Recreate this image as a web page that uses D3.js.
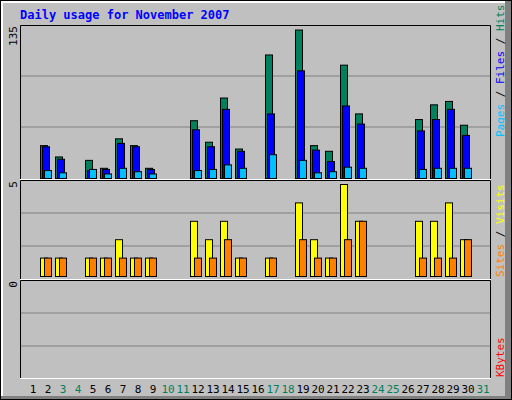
<!DOCTYPE html>
<html>
<head>
<meta charset="utf-8">
<script src="https://cdn.jsdelivr.net/npm/d3@7"></script>
<style>
  body { margin: 0; background: #fff; }
  text { font-family: "DejaVu Sans Mono", monospace; }
</style>
</head>
<body>
<svg id="chart" width="512" height="400"></svg>
<script>
// Daily data for November 2007
const days = d3.range(1, 32);
const weekendDays = [3, 4, 10, 11, 17, 18, 24, 25, 31];
const hits   = [0,29,19,0,16,9,35,29,9,0,0,51,32,71,26,0,109,0,131,29,24,100,57,0,0,0,52,65,68,47,0];
const files  = [0,28,17,0,7,8,31,28,8,0,0,43,28,61,24,0,57,0,95,25,15,64,48,0,0,0,42,52,61,38,0];
const pages  = [0,7,5,0,8,4,9,6,4,0,0,7,8,12,9,0,21,0,16,5,6,10,9,0,0,0,8,9,9,9,0];
const visits = [0,1,1,0,1,1,2,1,1,0,0,3,2,3,1,0,1,0,4,2,1,5,3,0,0,0,3,3,4,2,0];
const sites  = [0,1,1,0,1,1,1,1,1,0,0,1,1,2,1,0,1,0,2,1,1,2,3,0,0,0,1,1,1,2,0];
const kbytes = days.map(() => 0);

const svg = d3.select("#chart");

// window frame
svg.append("rect").attr("x", 0).attr("y", 0).attr("width", 512).attr("height", 400).attr("fill", "#000");
svg.append("rect").attr("x", 1).attr("y", 1).attr("width", 510).attr("height", 398).attr("fill", "#808080");
svg.append("rect").attr("x", 1).attr("y", 1).attr("width", 504).attr("height", 395).attr("fill", "#fff");
svg.append("rect").attr("x", 3).attr("y", 3).attr("width", 502).attr("height", 393).attr("fill", "#c0c0c0");

svg.append("text").attr("x", 20).attr("y", 19)
  .attr("font-size", 12).attr("font-weight", "bold").attr("fill", "#0000ff")
  .text("Daily usage for November 2007");

const x = d3.scaleLinear().domain([1, 31]).range([33, 483]);

const panels = [
  { top: 25, bottom: 179, base: 178, max: 135, maxY: 25, label: "135", sideY: 137,
    series: [[hits, "#00805c", -8], [files, "#0000ff", -6], [pages, "#00c0ff", -4]],
    grids: [76, 127],
    side: [["Pages", "#00c0ff"], [" / ", "#000"], ["Files", "#0000ff"], [" / ", "#000"], ["Hits", "#00805c"]] },
  { top: 180, bottom: 279, base: 276, max: 5, maxY: 184, label: "5", sideY: 277,
    series: [[visits, "#ffff00", -8], [sites, "#ff8000", -4]],
    grids: [213, 246],
    side: [["Sites", "#ff8000"], [" / ", "#000"], ["Visits", "#ffff00"]] },
  { top: 280, bottom: 378, base: 378, max: 1, maxY: 280, label: "0", sideY: 377,
    series: [[kbytes, "#ff0000", -4]],
    grids: [313, 346],
    side: [["KBytes", "#ff0000"]] }
];

panels.forEach(p => {
  const y = d3.scaleLinear().domain([0, p.max]).range([p.base, p.maxY]);
  p.grids.forEach(g => svg.append("line").attr("x1", 21).attr("x2", 490)
    .attr("y1", g).attr("y2", g).attr("stroke", "#808080").attr("stroke-width", 1));
  // frame
  svg.append("path").attr("d", `M20.5,${p.bottom}V${p.top + 0.5}H490.5V${p.bottom}`)
    .attr("fill", "none").attr("stroke", "#000");
  svg.append("line").attr("x1", 20).attr("x2", 491).attr("y1", p.bottom + 0.5).attr("y2", p.bottom + 0.5)
    .attr("stroke", "#fff");

  p.series.forEach(([vals, color, off]) => {
    svg.append("g").selectAll("rect")
      .data(days.filter((d, i) => vals[i] > 0))
      .join("rect")
      .attr("x", d => x(d) + off + 0.5)
      .attr("width", 7)
      .attr("y", d => y(vals[d - 1]) + 0.5)
      .attr("height", d => y(0) - y(vals[d - 1]))
      .attr("fill", color).attr("stroke", "#000");
  });

  // left max label
  svg.append("text")
    .attr("transform", `translate(17,${p.top + 1}) rotate(-90)`)
    .attr("text-anchor", "end").attr("font-size", 11).attr("fill", "#000")
    .text(p.label);

  // right side label, reading bottom to top
  const t = svg.append("text")
    .attr("transform", `translate(504,${p.sideY}) rotate(-90)`)
    .attr("font-size", 11);
  p.side.forEach(([s, c]) => t.append("tspan").attr("fill", c).text(s));
});

// day labels
svg.append("g").selectAll("text").data(days).join("text")
  .attr("x", d => x(d)).attr("y", 393)
  .attr("text-anchor", "middle").attr("font-size", 11)
  .attr("fill", d => weekendDays.includes(d) ? "#00805c" : "#000")
  .text(d => d);
</script>
</body>
</html>
